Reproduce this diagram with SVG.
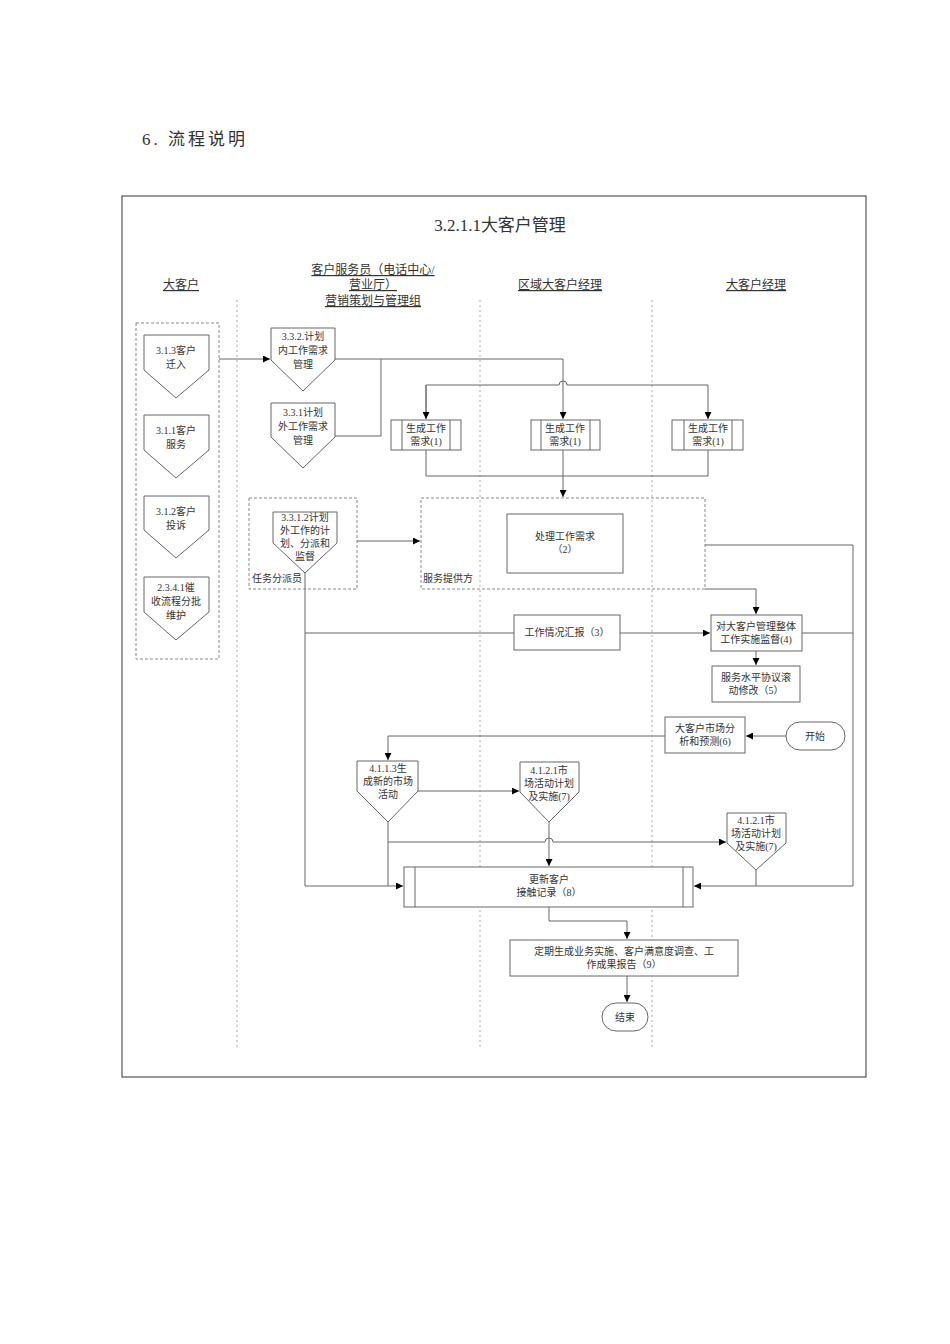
<svg xmlns="http://www.w3.org/2000/svg" width="950" height="1344" viewBox="0 0 950 1344">
<style>
text{font-family:"Liberation Serif","Noto Sans CJK SC",serif;font-size:10px;fill:#333;text-anchor:middle}
.h{font-size:12px;text-decoration:underline}
.l{text-anchor:start}
.n{fill:#fff;stroke:#666;stroke-width:1}
.g{fill:none;stroke:#888;stroke-width:1;stroke-dasharray:3,2}
.lane{stroke:#aaa;stroke-width:1;stroke-dasharray:2,3}
.c path{fill:none;stroke:#666;stroke-width:1}
</style>
<defs><marker id="a" viewBox="0 0 10 10" refX="10" refY="5" markerWidth="7" markerHeight="7" orient="auto"><path d="M0,0L10,5L0,10z" fill="#000"/></marker></defs>
<rect width="950" height="1344" fill="#fff"/>
<text x="142" y="145" class="l" style="font-size:17px;letter-spacing:3px">6. 流程说明</text>
<rect x="122" y="196" width="744" height="881" fill="none" stroke="#333"/>
<text x="500" y="231" style="font-size:17px">3.2.1.1大客户管理</text>
<text x="181" y="289" class="h">大客户</text>
<text x="373" y="274" class="h">客户服务员（电话中心/</text>
<text x="373" y="289" class="h">营业厅）</text>
<text x="373" y="305" class="h">营销策划与管理组</text>
<text x="560" y="289" class="h">区域大客户经理</text>
<text x="756" y="289" class="h">大客户经理</text>
<g><line class="lane" x1="237" y1="300" x2="237" y2="1050"/><line class="lane" x1="480" y1="300" x2="480" y2="1050"/><line class="lane" x1="652" y1="300" x2="652" y2="1050"/></g>
<g id="grp1"><rect class="g" x="136" y="323" width="83" height="336"/></g>
<g id="n313"><path class="n" d="M144,335H209V370L176,398L144,370Z"/><text x="176" y="354">3.1.3客户</text><text x="176" y="368">迁入</text></g>
<g id="n311"><path class="n" d="M144,415H209V450L176,478L144,450Z"/><text x="176" y="434">3.1.1客户</text><text x="176" y="448">服务</text></g>
<g id="n312"><path class="n" d="M144,496H209V530L176,558L144,530Z"/><text x="176" y="515">3.1.2客户</text><text x="176" y="529">投诉</text></g>
<g id="n2341"><path class="n" d="M144,577H209V612L176,640L144,612Z"/><text x="176" y="591">2.3.4.1催</text><text x="176" y="605">收流程分批</text><text x="176" y="619">维护</text></g>
<g id="n332"><path class="n" d="M271,328H335V360L303,391L271,360Z"/><text x="303" y="340">3.3.2.计划</text><text x="303" y="354">内工作需求</text><text x="303" y="368">管理</text></g>
<g id="n331"><path class="n" d="M271,403H335V437L303,468L271,437Z"/><text x="303" y="416">3.3.1计划</text><text x="303" y="430">外工作需求</text><text x="303" y="444">管理</text></g>
<g id="b1a"><rect class="n" x="391" y="420" width="70" height="30"/><path d="M402,420V450M450,420V450" stroke="#666"/><text x="426" y="432">生成工作</text><text x="426" y="445">需求(1)</text></g>
<g id="b1b"><rect class="n" x="531" y="420" width="69" height="30"/><path d="M541,420V450M590,420V450" stroke="#666"/><text x="565" y="432">生成工作</text><text x="565" y="445">需求(1)</text></g>
<g id="b1c"><rect class="n" x="672" y="420" width="71" height="30"/><path d="M684,420V450M732,420V450" stroke="#666"/><text x="708" y="432">生成工作</text><text x="708" y="445">需求(1)</text></g>
<g id="grpTask"><rect class="g" x="249" y="498" width="108" height="91"/><text x="252" y="582" class="l">任务分派员</text></g>
<g id="n3312"><path class="n" d="M273,512H337V543L305,573L273,543Z"/><text x="305" y="521">3.3.1.2计划</text><text x="305" y="534">外工作的计</text><text x="305" y="547">划、分派和</text><text x="305" y="560">监督</text></g>
<g id="grpSvc"><rect class="g" x="421" y="498" width="284" height="91"/><text x="423" y="582" class="l">服务提供方</text></g>
<g id="b2"><rect class="n" x="507" y="514" width="116" height="59"/><text x="565" y="540">处理工作需求</text><text x="565" y="553">（2）</text></g>
<g id="b3"><rect class="n" x="514" y="615" width="106" height="35"/><text x="567" y="636">工作情况汇报（3）</text></g>
<g id="b4"><rect class="n" x="711" y="615" width="91" height="36"/><text x="756" y="630">对大客户管理整体</text><text x="756" y="643">工作实施监督(4)</text></g>
<g id="b5"><rect class="n" x="712" y="666" width="88" height="36"/><text x="756" y="681">服务水平协议滚</text><text x="756" y="694">动修改（5）</text></g>
<g id="b6"><rect class="n" x="665" y="717" width="80" height="36"/><text x="705" y="732">大客户市场分</text><text x="705" y="745">析和预测(6)</text></g>
<g id="start"><rect class="n" x="786" y="722" width="59" height="28" rx="14"/><text x="815" y="740">开始</text></g>
<g id="n4113"><path class="n" d="M357,761H418V791L388,822L357,791Z"/><text x="388" y="772">4.1.1.3生</text><text x="388" y="785">成新的市场</text><text x="388" y="798">活动</text></g>
<g id="n4121a"><path class="n" d="M520,762H579V792L549,822L520,792Z"/><text x="549" y="774">4.1.2.1市</text><text x="549" y="787">场活动计划</text><text x="549" y="800">及实施(7)</text></g>
<g id="n4121b"><path class="n" d="M727,813H786V843L756,870L727,843Z"/><text x="756" y="824">4.1.2.1市</text><text x="756" y="837">场活动计划</text><text x="756" y="850">及实施(7)</text></g>
<g id="b8"><rect class="n" x="404" y="867" width="289" height="40"/><path d="M415,867V907M683,867V907" stroke="#666"/><text x="549" y="883">更新客户</text><text x="549" y="896">接触记录（8）</text></g>
<g id="b9"><rect class="n" x="510" y="940" width="228" height="36"/><text x="624" y="955">定期生成业务实施、客户满意度调查、工</text><text x="624" y="968">作成果报告（9）</text></g>
<g id="end"><rect class="n" x="602" y="1003" width="46" height="28" rx="14"/><text x="625" y="1021">结束</text></g>
<g class="c">
<path d="M219,359H270" marker-end="url(#a)"/>
<path d="M335,359H563V419" marker-end="url(#a)"/>
<path d="M335,436H381V359"/>
<path d="M426,419V385H559A4,4 0 0 1 567,385H708V419" marker-end="url(#a)"/>
<path d="M426,385V419" marker-end="url(#a)"/>
<path d="M426,450V476H708V450"/>
<path d="M563,450V497" marker-end="url(#a)"/>
<path d="M357,541H420" marker-end="url(#a)"/>
<path d="M705,545H853V886H694" marker-end="url(#a)"/>
<path d="M705,589H756V614" marker-end="url(#a)"/>
<path d="M802,633H853"/>
<path d="M305,573V886H403" marker-end="url(#a)"/>
<path d="M305,633H514"/>
<path d="M620,633H710" marker-end="url(#a)"/>
<path d="M756,651V665" marker-end="url(#a)"/>
<path d="M786,736H746" marker-end="url(#a)"/>
<path d="M665,736H388V760" marker-end="url(#a)"/>
<path d="M418,791H519" marker-end="url(#a)"/>
<path d="M388,822V886"/>
<path d="M388,842H545A4,4 0 0 1 553,842H726" marker-end="url(#a)"/>
<path d="M549,822V866" marker-end="url(#a)"/>
<path d="M756,870V886"/>
<path d="M549,907V921H627V939" marker-end="url(#a)"/>
<path d="M627,976V1002" marker-end="url(#a)"/>
</g>
</svg>
